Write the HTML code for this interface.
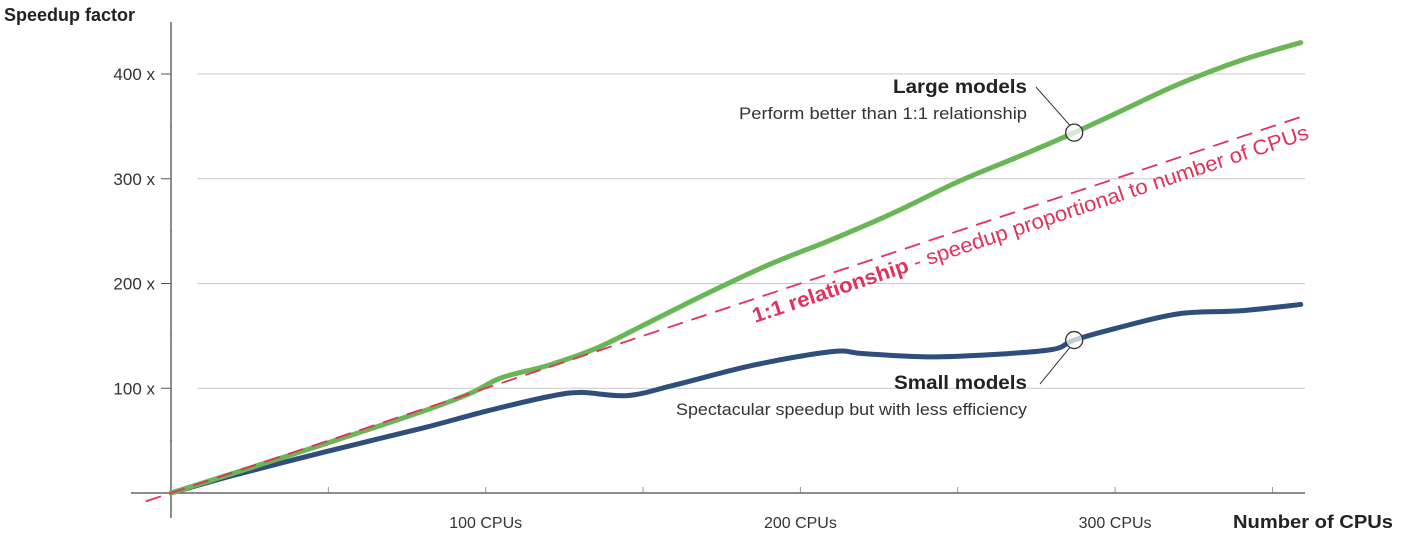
<!DOCTYPE html>
<html><head><meta charset="utf-8"><style>
body{margin:0;background:#fff;width:1417px;height:535px;overflow:hidden;font-family:"Liberation Sans",sans-serif}
svg text{font-family:"Liberation Sans",sans-serif}
</style></head><body>
<svg id="chart" width="1417" height="535" viewBox="0 0 1417 535" xmlns="http://www.w3.org/2000/svg">
<g id="grid"></g>
<g id="axes"></g>
<g id="series"></g>
<g id="annot"></g>
</svg>
<script>
const yTicks=[100,200,300,400];
const yTickLabels=["100 x","200 x","300 x","400 x"];
const xTicks=[100,200,300];
const xTickLabels=["100 CPUs","200 CPUs","300 CPUs"];
const largeX=[0,20,50,80,95,105,120,135,150,170,190,210,230,250,270,287,300,320,340,359];
const largeY=[0,19,48,78,95,110,122,138,160,190,218,242,268,297,322,344,362,390,413,430];
const smallX=[0,20,50,80,100,120,130,145,160,185,210,220,240,260,280,287,300,320,340,359];
const smallY=[0,17,40,62,78,92,96,93,103,122,135,133,130,132,137,146,157,171,174,180];
const oneX=[-8,360];
const oneY=[-8,360];
const NS="http://www.w3.org/2000/svg";
const sx=v=>171+v*3.147;
const sy=v=>493-v*1.0475;
function mk(tag,attrs,parent,txt){const e=document.createElementNS(NS,tag);for(const k in attrs)e.setAttribute(k,attrs[k]);if(txt!=null)e.textContent=txt;parent.appendChild(e);return e;}
const grid=document.getElementById('grid'),axes=document.getElementById('axes'),series=document.getElementById('series'),annot=document.getElementById('annot');
yTicks.forEach((t,i)=>{
 const l=mk('line',{x1:197,x2:1305,y1:sy(t),y2:sy(t),stroke:'#c8c8c8','stroke-width':1},grid);
 
 
 const tk=mk('line',{x1:161,x2:171,y1:sy(t),y2:sy(t),stroke:'#555','stroke-width':1},axes);
 
 
 const m=mk('line',{x1:170,x2:172,y1:sy(t-50),y2:sy(t-50),stroke:'#999','stroke-width':1},axes);
 
 
 const tx=mk('text',{x:155,y:sy(t)+6,'text-anchor':'end','font-size':17,fill:'#333'},axes,yTickLabels[i]);
 
 
});
[50,100,150,200,250,300,350].forEach(t=>{
 const tk=mk('line',{x1:sx(t),x2:sx(t),y1:487,y2:493,stroke:'#999','stroke-width':1},axes);
 
 
});
xTicks.forEach((t,i)=>{
 const tx=mk('text',{x:sx(t),y:528,'text-anchor':'middle','font-size':16,fill:'#333'},axes,xTickLabels[i]);
 
 
});
let a=mk('line',{x1:131,x2:1305,y1:493,y2:493,stroke:'#666','stroke-width':1.5},axes);


a=mk('line',{x1:171,x2:171,y1:22,y2:518,stroke:'#666','stroke-width':1.5},axes);


let t=mk('text',{x:4,y:21,'font-size':18,fill:'#222','font-weight':'bold'},axes,'Speedup factor');


t=mk('text',{x:1233,y:528,'font-size':18,fill:'#222','font-weight':'bold',textLength:160,lengthAdjust:'spacingAndGlyphs'},axes,'Number of CPUs');


function smooth(xs,ys){const p=xs.map((x,i)=>[sx(x),sy(ys[i])]);let d='M'+p[0][0]+','+p[0][1];
 for(let i=0;i<p.length-1;i++){const p0=p[i-1]||p[i],p1=p[i],p2=p[i+1],p3=p[i+2]||p2;
 d+=' C'+(p1[0]+(p2[0]-p0[0])/6)+','+(p1[1]+(p2[1]-p0[1])/6)+' '+(p2[0]-(p3[0]-p1[0])/6)+','+(p2[1]-(p3[1]-p1[1])/6)+' '+p2[0]+','+p2[1];}return d;}
let s=mk('path',{d:smooth(smallX,smallY),fill:'none',stroke:'#2f4f7a','stroke-width':5,'stroke-linecap':'round'},series);


s=mk('path',{d:smooth(largeX,largeY),fill:'none',stroke:'#6ab557','stroke-width':5,'stroke-linecap':'round'},series);


s=mk('line',{x1:sx(oneX[0]),y1:sy(oneY[0]),x2:sx(oneX[1]),y2:sy(oneY[1]),stroke:'#e0325a','stroke-width':1.8,'stroke-dasharray':'16,9'},series);


const ang=-Math.atan(1.0475/3.147)*180/Math.PI;
t=mk('text',{x:0,y:0,'font-size':21,fill:'#e0325a',transform:`translate(755,323) rotate(${ang})`,textLength:585,lengthAdjust:'spacingAndGlyphs'},annot);


mk('tspan',{'font-weight':'bold'},t,'1:1 relationship');
mk('tspan',{},t,' - speedup proportional to number of CPUs');
function callout(cx,cy,lx1,ly1,title,sub,ty,tw,sw,name){
 let l=mk('line',{x1:lx1,y1:ly1,x2:cx-4,y2:cy+(ly1<cy?-7:7),stroke:'#333','stroke-width':1},annot);
 
 
 let c=mk('circle',{cx:cx,cy:cy,r:8.5,fill:'rgba(255,255,255,0.7)',stroke:'#333','stroke-width':1.3},annot);
 
 
 let a=mk('text',{x:1027,y:ty,'text-anchor':'end','font-size':19,fill:'#222','font-weight':'bold',textLength:tw,lengthAdjust:'spacingAndGlyphs'},annot,title);
 
 
 a=mk('text',{x:1027,y:ty+26,'text-anchor':'end','font-size':17,fill:'#333',textLength:sw,lengthAdjust:'spacingAndGlyphs'},annot,sub);
 
 
}
callout(sx(287),sy(344),1036,87,'Large models','Perform better than 1:1 relationship',93,134,288,'large-models');
callout(sx(287),sy(146),1040,384,'Small models','Spectacular speedup but with less efficiency',389,133,351,'small-models');
</script>
</body></html>
